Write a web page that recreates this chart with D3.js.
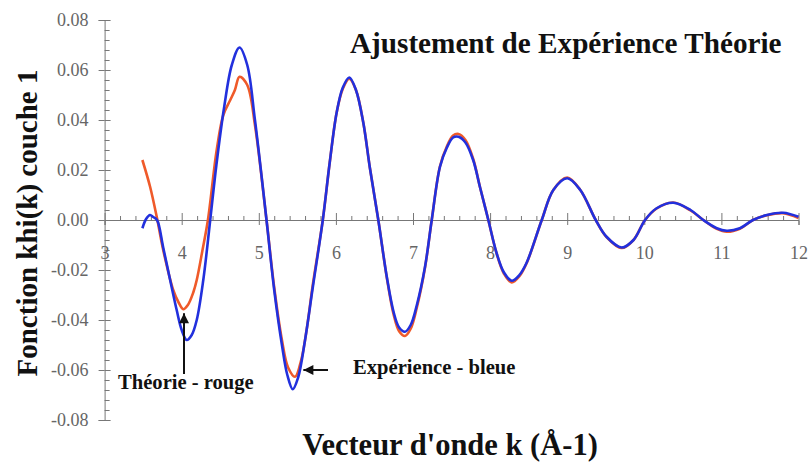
<!DOCTYPE html>
<html lang="fr">
	<head>
		<meta charset="UTF-8" />
		<title>Ajustement de Expérience Théorie</title>
		<script src="https://d3js.org/d3.v7.min.js"></script>
		<style>
			html,
			body {
				margin: 0;
				background: #fff;
			}
			svg {
				display: block;
				font-family: 'Liberation Serif', 'Times New Roman', serif;
			}
			.axis path,
			.axis line {
				stroke: #777;
			}
			.axis text {
				font-family: 'Liberation Serif' !important;
				font-size: 18px !important;
				fill: #666;
			}
			.lbl {
				font-weight: bold;
				fill: #111;
			}
		</style>
	</head>
	<body>
		<svg id="chart" width="810" height="470"></svg>
		<script>
			// values
			const kExp = [
				3.49, 3.54, 3.59, 3.63, 3.68, 3.76, 3.85, 3.935, 4.0, 4.065, 4.13,
				4.195, 4.28, 4.37, 4.45, 4.55, 4.65, 4.75, 4.85, 4.95, 5.1, 5.2, 5.3,
				5.37, 5.44, 5.51, 5.6, 5.7, 5.83, 5.92, 6.01, 6.09, 6.174, 6.26, 6.355,
				6.44, 6.55, 6.66, 6.75, 6.82, 6.896, 6.97, 7.05, 7.156, 7.243, 7.35,
				7.44, 7.52, 7.59, 7.68, 7.78, 7.87, 7.977, 8.085, 8.18, 8.28, 8.38,
				8.475, 8.67, 8.82, 9.0, 9.17, 9.37, 9.51, 9.707, 9.86, 10.01, 10.16,
				10.376, 10.6, 10.765, 10.94, 11.07, 11.24, 11.41, 11.59, 11.8, 12.0,
			];
			const chiExp = [
				-0.0033, 0.0005, 0.002, 0.0012, 0.0, -0.011, -0.024, -0.036, -0.044,
				-0.048, -0.046, -0.04, -0.024, 0.0, 0.022, 0.045, 0.062, 0.069, 0.062,
				0.04, 0.0, -0.028, -0.05, -0.062, -0.0677, -0.063, -0.048, -0.027, 0.0,
				0.023, 0.043, 0.053, 0.057, 0.052, 0.039, 0.021, 0.0, -0.0227, -0.037,
				-0.043, -0.0447, -0.042, -0.034, -0.0187, 0.0, 0.0213, 0.029, 0.033,
				0.0333, 0.031, 0.024, 0.013, 0.0, -0.0133, -0.021, -0.0243, -0.022,
				-0.017, 0.0, 0.012, 0.0167, 0.012, 0.0, -0.0067, -0.011, -0.008, 0.0,
				0.0047, 0.0069, 0.004, 0.0, -0.0033, -0.0043, -0.0033, 0.0, 0.002,
				0.0029, 0.0013,
			];

			const kTheo = [
				3.49, 3.59, 3.676, 3.76, 3.89, 3.96, 4.02, 4.08, 4.15, 4.195, 4.27,
				4.34, 4.454, 4.54, 4.63, 4.69, 4.75, 4.85, 4.95, 5.1, 5.2, 5.3, 5.38,
				5.47, 5.55, 5.62, 5.7, 5.83, 5.92, 6.01, 6.09, 6.174, 6.26, 6.355, 6.44,
				6.55, 6.66, 6.75, 6.82, 6.896, 6.97, 7.05, 7.156, 7.243, 7.35, 7.44,
				7.52, 7.59, 7.68, 7.78, 7.87, 7.977, 8.085, 8.18, 8.28, 8.38, 8.475,
				8.67, 8.82, 9.0, 9.17, 9.37, 9.51, 9.707, 9.86, 10.01, 10.16, 10.376,
				10.6, 10.765, 10.94, 11.07, 11.24, 11.41, 11.59, 11.8, 12.0,
			];
			const chiTheo = [
				0.024, 0.0133, 0.0013, -0.012, -0.028, -0.033, -0.0357, -0.034, -0.029,
				-0.024, -0.012, 0.0, 0.028, 0.042, 0.048, 0.052, 0.0573, 0.054, 0.038,
				0.0, -0.027, -0.048, -0.059, -0.0627, -0.056, -0.044, -0.026, 0.0,
				0.023, 0.043, 0.0525, 0.0565, 0.052, 0.039, 0.021, 0.0, -0.023, -0.038,
				-0.0445, -0.0464, -0.0435, -0.035, -0.019, 0.0, 0.0215, 0.0295, 0.0338,
				0.0344, 0.032, 0.0245, 0.013, 0.0, -0.0135, -0.0215, -0.025, -0.0225,
				-0.0172, 0.0, 0.012, 0.017, 0.012, 0.0, -0.0068, -0.0112, -0.008, 0.0,
				0.0046, 0.007, 0.0038, 0.0, -0.0035, -0.0047, -0.0035, 0.0, 0.0019,
				0.0027, 0.0008,
			];

			const xMajor = [3, 4, 5, 6, 7, 8, 9, 10, 11, 12];
			const yMajor = [-0.08, -0.06, -0.04, -0.02, 0, 0.02, 0.04, 0.06, 0.08];

			const title = 'Ajustement de Expérience Théorie';
			const xTitle = "Vecteur d'onde k (Å-1)";
			const yTitle = 'Fonction khi(k) couche 1';

			const svg = d3.select('#chart');

			const x = d3.scaleLinear().domain([3, 12]).range([104.6, 798.5]);
			const y = d3.scaleLinear().domain([-0.08, 0.08]).range([420, 20]);

			const xMinor = d3.range(3, 12.001, 0.2).filter(
				(v) => Math.abs(v - Math.round(v)) > 0.01,
			);
			const yMinor = d3.range(-0.08, 0.0801, 0.004).filter(
				(v) => Math.abs(v / 0.02 - Math.round(v / 0.02)) > 0.01,
			);

			// y axis: labels + crossing major ticks + inner minor ticks
			svg
				.append('g')
				.attr('class', 'axis')
				.attr('transform', `translate(${x(3)},0)`)
				.call(
					d3
						.axisLeft(y)
						.tickValues(yMajor)
						.tickSize(6)
						.tickPadding(10)
						.tickFormat((d) => d.toFixed(2)),
				);
			svg
				.append('g')
				.attr('class', 'axis')
				.attr('transform', `translate(${x(3)},0)`)
				.call(d3.axisLeft(y).tickValues(yMajor).tickSize(-6).tickFormat(''))
				.call((g) => g.select('.domain').remove());
			svg
				.append('g')
				.attr('class', 'axis')
				.attr('transform', `translate(${x(3)},0)`)
				.call(d3.axisLeft(y).tickValues(yMinor).tickSize(-5).tickFormat(''))
				.call((g) => g.select('.domain').remove());

			// x axis through zero
			svg
				.append('g')
				.attr('class', 'axis')
				.attr('transform', `translate(0,${y(0)})`)
				.call(d3.axisBottom(x).tickValues(xMajor).tickSize(5).tickPadding(21));
			svg
				.append('g')
				.attr('class', 'axis')
				.attr('transform', `translate(0,${y(0)})`)
				.call(d3.axisBottom(x).tickValues(xMajor).tickSize(-7).tickFormat(''))
				.call((g) => g.select('.domain').remove());
			svg
				.append('g')
				.attr('class', 'axis')
				.attr('transform', `translate(0,${y(0)})`)
				.call(d3.axisBottom(x).tickValues(xMinor).tickSize(-4).tickFormat(''))
				.call((g) => g.select('.domain').remove());

			svg.selectAll('.axis .domain').attr('stroke', '#777');

			const line = (ks) =>
				d3
					.line()
					.x((d, i) => x(ks[i]))
					.y((d) => y(d))
					.curve(d3.curveCatmullRom.alpha(0.5));

			svg
				.append('path')
				.attr('d', line(kTheo)(chiTheo))
				.attr('fill', 'none')
				.attr('stroke', '#ef5a2a')
				.attr('stroke-width', 2.6);

			svg
				.append('path')
				.attr('d', line(kExp)(chiExp))
				.attr('fill', 'none')
				.attr('stroke', '#2230dd')
				.attr('stroke-width', 2.6);

			// annotations with arrows
			svg
				.append('defs')
				.append('marker')
				.attr('id', 'head')
				.attr('viewBox', '0 0 10 10')
				.attr('refX', 10)
				.attr('refY', 5)
				.attr('markerWidth', 11)
				.attr('markerHeight', 10)
				.attr('markerUnits', 'userSpaceOnUse')
				.attr('orient', 'auto')
				.append('path')
				.attr('d', 'M0,0L10,5L0,10Z')
				.attr('fill', '#111');

			svg
				.append('line')
				.attr('x1', x(4.03))
				.attr('x2', x(4.03))
				.attr('y1', 374)
				.attr('y2', y(-0.0365) + 2)
				.attr('stroke', '#111')
				.attr('stroke-width', 2)
				.attr('marker-end', 'url(#head)');
			svg
				.append('line')
				.attr('x1', 328)
				.attr('x2', x(5.5) + 6)
				.attr('y1', 370)
				.attr('y2', 370)
				.attr('stroke', '#111')
				.attr('stroke-width', 2)
				.attr('marker-end', 'url(#head)');

			svg
				.append('text')
				.attr('class', 'lbl')
				.attr('x', 118)
				.attr('y', 389)
				.attr('font-size', 20.6)
				.text('Théorie - rouge');
			svg
				.append('text')
				.attr('class', 'lbl')
				.attr('x', 353)
				.attr('y', 374)
				.attr('font-size', 20.6)
				.text('Expérience - bleue');

			// titles
			svg
				.append('text')
				.attr('class', 'lbl')
				.attr('x', 350)
				.attr('y', 53)
				.attr('font-size', 29.2)
				.text(title);
			svg
				.append('text')
				.attr('class', 'lbl')
				.attr('x', 450)
				.attr('y', 455)
				.attr('text-anchor', 'middle')
				.attr('font-size', 30.5)
				.text(xTitle);
			svg
				.append('text')
				.attr('class', 'lbl')
				.attr('transform', 'translate(37,223) rotate(-90)')
				.attr('text-anchor', 'middle')
				.attr('font-size', 29)
				.text(yTitle);
		</script>
	</body>
</html>
